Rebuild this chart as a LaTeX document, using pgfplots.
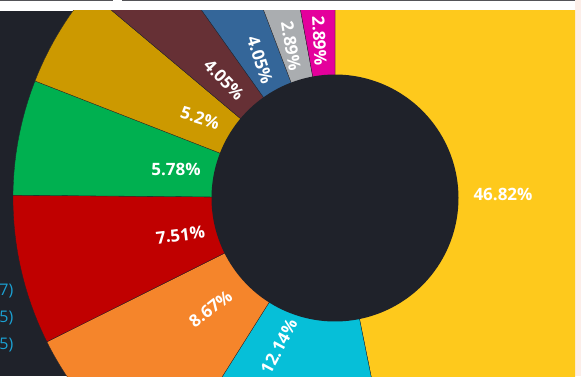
\documentclass[border=0pt]{standalone}
\usepackage{pgfplots}
\usepackage{pgfplotstable}
\pgfplotsset{compat=1.18}
\usepackage{fontspec}
\setmainfont{Open Sans}
\definecolor{cBg}{HTML}{1F222A}
\definecolor{cPink}{HTML}{FCEEE9}
\definecolor{cLine}{HTML}{545458}
\definecolor{cLegend}{HTML}{1BA1D3}
\definecolor{cYellow}{HTML}{FEC91C}
\definecolor{cCyan}{HTML}{06BFD8}
\definecolor{cOrange}{HTML}{F5852B}
\definecolor{cRed}{HTML}{C00000}
\definecolor{cGreen}{HTML}{00B050}
\definecolor{cGold}{HTML}{CC9900}
\definecolor{cBrown}{HTML}{663035}
\definecolor{cBlue}{HTML}{346699}
\definecolor{cGray}{HTML}{AAADB0}
\definecolor{cMagenta}{HTML}{E4009C}

% slice value (%), colour, label position (axis units) and label rotation
\pgfplotstableread{
name    value col      lx    ly    rot
Yellow  46.82 cYellow  503   182   0
Cyan    12.14 cCyan    279   29.5  62
Orange  8.67  cOrange  210.5 67    38
Red     7.51  cRed     180.5 141   7
Green   5.78  cGreen   176   206.5 0
Gold    5.2   cGold    200   258   -17
Brown   4.05  cBrown   224   296   -46
Blue    4.05  cBlue    260   316   -72
Gray    2.89  cGray    291   330   -80
Magenta 2.89  cMagenta 319.5 335   -87
}\piedata

\begin{document}
\begin{tikzpicture}
\useasboundingbox (0,0) rectangle (581pt,376pt);
\fill[cPink] (0,0) rectangle (581pt,376pt);
\fill[white] (0,365pt) rectangle (575pt,376pt);
\fill[cBg] (0,0) rectangle (575pt,365pt);
\fill[cLine] (0,375pt) rectangle (113pt,376pt);
\fill[cLine] (122pt,375pt) rectangle (575pt,376pt);
\begin{axis}[
  at={(0pt,0pt)}, anchor=south west,
  scale only axis, width=575pt, height=365pt,
  xmin=0, xmax=575, ymin=0, ymax=365,
  hide axis, clip=true,
]
\pgfmathsetmacro\astart{90}
\pgfplotsforeachungrouped \i in {0,...,9}{%
  \pgfplotstablegetelem{\i}{value}\of\piedata \edef\v{\pgfplotsretval}%
  \pgfplotstablegetelem{\i}{col}\of\piedata \edef\c{\pgfplotsretval}%
  \pgfmathsetmacro\aend{\astart-3.6*\v}%
  \edef\cmd{\noexpand\addplot[fill=\c, draw=cBg, line width=0.3pt, domain=\aend:\astart, samples=90, variable=\noexpand\ang] ({335+322*cos(\noexpand\ang)},{178+322*sin(\noexpand\ang)}) -- (axis cs:335,178) -- cycle;}%
  \cmd
  \global\let\astart\aend
}
\addplot[fill=cBg, draw=none, domain=0:360, samples=160, variable=\ang] ({335+123.5*cos(\ang)},{178+123.5*sin(\ang)}) -- cycle;
\pgfplotsforeachungrouped \i in {0,...,9}{%
  \pgfplotstablegetelem{\i}{value}\of\piedata \edef\v{\pgfplotsretval}%
  \pgfplotstablegetelem{\i}{lx}\of\piedata \edef\lx{\pgfplotsretval}%
  \pgfplotstablegetelem{\i}{ly}\of\piedata \edef\ly{\pgfplotsretval}%
  \pgfplotstablegetelem{\i}{rot}\of\piedata \edef\r{\pgfplotsretval}%
  \edef\cmd{\noexpand\node[rotate=\r, text=white, inner sep=0pt, font=\noexpand\bfseries\noexpand\fontsize{17}{20}\noexpand\selectfont] at (axis cs:\lx,\ly) {\v\noexpand\%};}%
  \cmd
}
\end{axis}
\node[anchor=east, text=cLegend, inner sep=0pt, font=\fontsize{16}{19}\selectfont] at (13.5pt,84.5pt) {7)};
\node[anchor=east, text=cLegend, inner sep=0pt, font=\fontsize{16}{19}\selectfont] at (13.5pt,57.5pt) {5)};
\node[anchor=east, text=cLegend, inner sep=0pt, font=\fontsize{16}{19}\selectfont] at (13.5pt,31pt) {5)};
\end{tikzpicture}
\end{document}
